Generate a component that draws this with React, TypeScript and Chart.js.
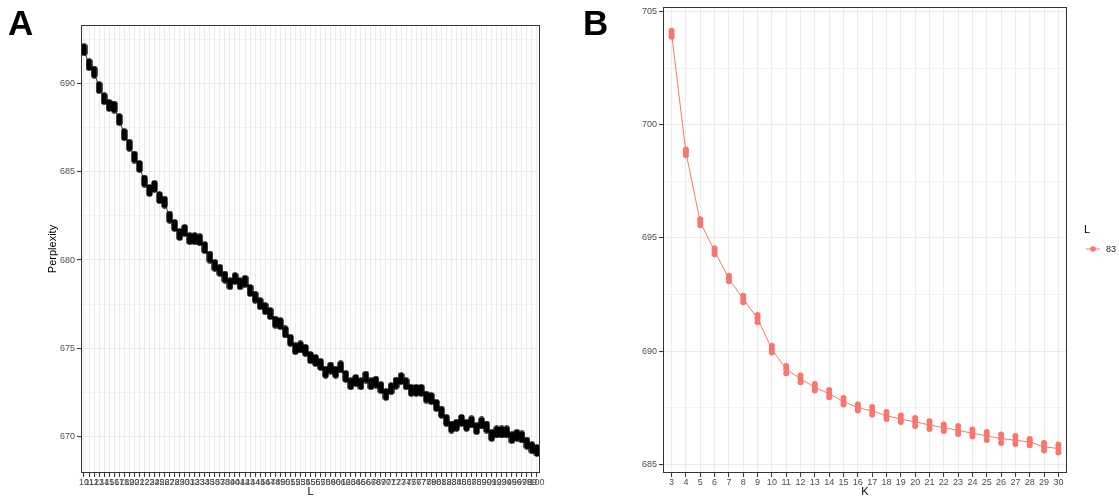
import React, { useEffect, useRef } from 'react';
import { Chart, registerables } from 'chart.js';

Chart.register(...registerables);

const FONT = '"Liberation Sans", Arial, Helvetica, sans-serif';
const AXIS_TEXT = '#4D4D4D';
const GRID = '#EBEBEB';
const BORDER = '#333333';
const RED = '#F8766D';

// ---------- Panel A data ----------
const valuesL = [
  10, 11, 12, 13, 14, 15, 16, 17, 18, 19, 20, 21, 22, 23, 24, 25, 26, 27, 28, 29,
  30, 31, 32, 33, 34, 35, 36, 37, 38, 39, 40, 41, 42, 43, 44, 45, 46, 47, 48, 49,
  50, 51, 52, 53, 54, 55, 56, 57, 58, 59, 60, 61, 62, 63, 64, 65, 66, 67, 68, 69,
  70, 71, 72, 73, 74, 75, 76, 77, 78, 79, 80, 81, 82, 83, 84, 85, 86, 87, 88, 89,
  90, 91, 92, 93, 94, 95, 96, 97, 98, 99, 100,
];
const perplexityByL = [
  691.9, 691.06, 690.64, 689.76, 689.13, 688.75, 688.66, 687.95, 687.1, 686.5,
  685.83, 685.3, 684.47, 683.94, 684.17, 683.53, 683.28, 682.43, 681.96, 681.45,
  681.68, 681.21, 681.21, 681.15, 680.7, 680.17, 679.7, 679.42, 679.04, 678.66,
  678.95, 678.66, 678.8, 678.28, 677.9, 677.53, 677.25, 676.97, 676.49, 676.4,
  675.93, 675.46, 674.99, 675.08, 674.89, 674.48, 674.32, 674.1, 673.66, 673.89,
  673.66, 673.95, 673.42, 673.0, 673.19, 673.0, 673.38, 673.0, 673.09, 672.78,
  672.4, 672.72, 673.04, 673.29, 673.0, 672.63, 672.63, 672.63, 672.25, 672.16,
  671.78, 671.4, 670.93, 670.55, 670.65, 670.93, 670.65, 670.84, 670.46, 670.78,
  670.55, 670.08, 670.27, 670.27, 670.27, 669.95, 670.08, 669.99, 669.64, 669.38,
  669.23,
];
const yTicksA = [670, 672.5, 675, 677.5, 680, 682.5, 685, 687.5, 690, 692.5];
const yLabelsA = [670, 675, 680, 685, 690];

// ---------- Panel B data ----------
const valuesK = [3, 4, 5, 6, 7, 8, 9, 10, 11, 12, 13, 14, 15, 16, 17, 18, 19, 20, 21, 22, 23, 24, 25, 26, 27, 28, 29, 30];
const perplexityKHigh = [
  704.15, 698.9, 695.82, 694.55, 693.33, 692.45, 691.6, 690.24, 689.34, 688.92,
  688.55, 688.28, 687.93, 687.64, 687.53, 687.31, 687.16, 687.05, 686.91, 686.76,
  686.69, 686.54, 686.43, 686.32, 686.25, 686.12, 685.94, 685.88,
];
const perplexityKMid = [
  704.0, 698.78, 695.7, 694.42, 693.2, 692.3, 691.45, 690.08, 689.2, 688.78,
  688.4, 688.12, 687.78, 687.5, 687.36, 687.15, 687.0, 686.88, 686.74, 686.62,
  686.5, 686.38, 686.26, 686.14, 686.07, 685.98, 685.78, 685.7,
];
const perplexityKLow = [
  703.88, 698.65, 695.56, 694.28, 693.09, 692.16, 691.28, 689.94, 689.03, 688.63,
  688.26, 687.97, 687.64, 687.38, 687.2, 687.0, 686.87, 686.7, 686.56, 686.47,
  686.34, 686.23, 686.08, 685.94, 685.9, 685.85, 685.61, 685.52,
];
const yTicksB = [685, 687.5, 690, 692.5, 695, 697.5, 700, 702.5, 705];
const yLabelsB = [685, 690, 695, 700, 705];
const legendTitleB = 'L';
const legendLabelB = '83';

const isMajor = (v: number) => Math.abs(v % 5) < 1e-6;

function makePill(): HTMLCanvasElement {
  const c = document.createElement('canvas');
  c.width = 7;
  c.height = 13;
  const g = c.getContext('2d')!;
  g.fillStyle = '#000000';
  [3.5, 6.5, 9.5].forEach((cy) => {
    g.beginPath();
    g.arc(3.5, cy, 3.2, 0, Math.PI * 2);
    g.fill();
  });
  return c;
}

function panelPlugin(letter: string, letterX: number, legend?: boolean) {
  return {
    id: 'panelDecor' + letter,
    afterDraw(chart: any) {
      const { ctx, chartArea } = chart;
      ctx.save();
      ctx.strokeStyle = BORDER;
      ctx.lineWidth = 1;
      const l = Math.round(chartArea.left) + 0.5;
      const t = Math.round(chartArea.top) + 0.5;
      const r = Math.round(chartArea.right) - 0.5;
      const b = Math.round(chartArea.bottom) - 0.5;
      ctx.strokeRect(l, t, r - l, b - t);
      ctx.fillStyle = '#000000';
      ctx.font = `bold 35px ${FONT}`;
      ctx.textBaseline = 'alphabetic';
      ctx.textAlign = 'left';
      ctx.fillText(letter, letterX, 35);
      if (legend) {
        ctx.font = `11px ${FONT}`;
        ctx.fillText(legendTitleB, 524, 233);
        ctx.strokeStyle = RED;
        ctx.lineWidth = 1;
        ctx.beginPath();
        ctx.moveTo(526, 249);
        ctx.lineTo(540, 249);
        ctx.stroke();
        ctx.fillStyle = RED;
        ctx.beginPath();
        ctx.arc(533, 249, 2.8, 0, Math.PI * 2);
        ctx.fill();
        ctx.fillStyle = '#1A1A1A';
        ctx.font = `9px ${FONT}`;
        ctx.fillText(legendLabelB, 546, 252);
      }
      ctx.restore();
    },
  };
}

function yGrid() {
  return {
    color: GRID,
    lineWidth: (c: any) => (c.tick && isMajor(c.tick.value) ? 1.1 : 0.55),
    tickColor: (c: any) => (c.tick && isMajor(c.tick.value) ? BORDER : 'rgba(0,0,0,0)'),
    tickLength: 4,
    tickWidth: 1,
    drawTicks: true,
  };
}

export default function App() {
  const refA = useRef<HTMLCanvasElement>(null);
  const refB = useRef<HTMLCanvasElement>(null);

  useEffect(() => {
    const pill = makePill();
    const tickFont = { family: FONT, size: 9 };
    const titleFont = { family: FONT, size: 11 };

    const chartA = new Chart(refA.current!, {
      type: 'scatter',
      data: {
        datasets: [
          {
            data: valuesL.map((x, i) => ({ x, y: perplexityByL[i] })),
            pointStyle: pill as any,
            pointRadius: 3,
            showLine: false,
          },
          {
            data: valuesL.map((x, i) => ({ x, y: perplexityByL[i] })),
            showLine: true,
            borderColor: '#000000',
            borderWidth: 0.8,
            pointRadius: 0,
          },
        ],
      },
      options: {
        animation: false,
        responsive: false,
        devicePixelRatio: 1,
        events: [],
        layout: { padding: { top: 25, right: 8, left: 0, bottom: 0 } },
        plugins: { legend: { display: false }, tooltip: { enabled: false } },
        scales: {
          x: {
            type: 'linear',
            min: 9.4,
            max: 100.6,
            afterBuildTicks: (s: any) => {
              s.ticks = valuesL.map((v) => ({ value: v }));
            },
            afterFit: (s: any) => {
              s.height = 26;
              s.paddingLeft = 0;
              s.paddingRight = 0;
            },
            ticks: {
              autoSkip: false,
              maxRotation: 0,
              minRotation: 0,
              padding: 0,
              color: AXIS_TEXT,
              font: tickFont,
              callback: (v: any) => String(v),
            },
            grid: { color: GRID, lineWidth: 1.1, tickColor: BORDER, tickLength: 4, tickWidth: 1 },
            border: { display: false },
            title: { display: true, text: 'L', color: '#000000', font: titleFont, padding: { top: 0, bottom: 0 } },
          },
          y: {
            type: 'linear',
            min: 667.95,
            max: 693.3,
            afterBuildTicks: (s: any) => {
              s.ticks = yTicksA.map((v) => ({ value: v }));
            },
            afterFit: (s: any) => {
              s.width = 81;
            },
            ticks: {
              padding: 2,
              color: AXIS_TEXT,
              font: tickFont,
              callback: (v: any) => (yLabelsA.includes(v) ? String(v) : ''),
            },
            grid: yGrid() as any,
            border: { display: false },
            title: { display: true, text: 'Perplexity', color: '#000000', font: titleFont, padding: { top: 46, bottom: 0 } },
          },
        },
      },
      plugins: [panelPlugin('A', 8)],
    } as any);

    const ptsB = (arr: number[]) => valuesK.map((x, i) => ({ x, y: arr[i] }));
    const pointDs = (arr: number[]) => ({
      data: ptsB(arr),
      showLine: false,
      pointRadius: 3,
      pointBackgroundColor: RED,
      pointBorderWidth: 0,
      borderColor: RED,
    });

    const chartB = new Chart(refB.current!, {
      type: 'scatter',
      data: {
        datasets: [
          pointDs(perplexityKHigh),
          pointDs(perplexityKMid),
          pointDs(perplexityKLow),
          {
            data: ptsB(perplexityKMid),
            showLine: true,
            borderColor: RED,
            borderWidth: 1,
            pointRadius: 0,
          },
        ],
      },
      options: {
        animation: false,
        responsive: false,
        devicePixelRatio: 1,
        events: [],
        layout: { padding: { top: 7, right: 52, left: 0, bottom: 0 } },
        plugins: { legend: { display: false }, tooltip: { enabled: false } },
        scales: {
          x: {
            type: 'linear',
            min: 2.4,
            max: 30.6,
            afterBuildTicks: (s: any) => {
              s.ticks = valuesK.map((v) => ({ value: v }));
            },
            afterFit: (s: any) => {
              s.height = 26;
              s.paddingLeft = 0;
              s.paddingRight = 0;
            },
            ticks: {
              autoSkip: false,
              maxRotation: 0,
              minRotation: 0,
              padding: 0,
              color: AXIS_TEXT,
              font: tickFont,
              callback: (v: any) => String(v),
            },
            grid: { color: GRID, lineWidth: 1.1, tickColor: BORDER, tickLength: 4, tickWidth: 1 },
            border: { display: false },
            title: { display: true, text: 'K', color: '#000000', font: titleFont, padding: { top: 0, bottom: 0 } },
          },
          y: {
            type: 'linear',
            min: 684.62,
            max: 705.18,
            afterBuildTicks: (s: any) => {
              s.ticks = yTicksB.map((v) => ({ value: v }));
            },
            afterFit: (s: any) => {
              s.width = 103;
            },
            ticks: {
              padding: 2,
              color: AXIS_TEXT,
              font: tickFont,
              callback: (v: any) => (yLabelsB.includes(v) ? String(v) : ''),
            },
            grid: yGrid() as any,
            border: { display: false },
          },
        },
      },
      plugins: [panelPlugin('B', 23, true)],
    } as any);

    return () => {
      chartA.destroy();
      chartB.destroy();
    };
  }, []);

  return (
    <div style={{ position: 'absolute', left: 0, top: 0, width: 1119, height: 499, background: '#FFFFFF', overflow: 'hidden' }}>
      <canvas ref={refA} width={548} height={499} style={{ position: 'absolute', left: 0, top: 0, width: 548, height: 499 }} />
      <canvas ref={refB} width={559} height={499} style={{ position: 'absolute', left: 560, top: 0, width: 559, height: 499 }} />
    </div>
  );
}
